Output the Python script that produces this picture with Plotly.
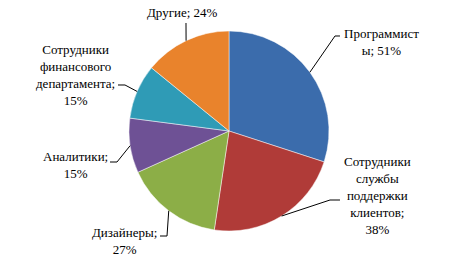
import math
import plotly.graph_objects as go

categories = ["Программисты", "Сотрудники службы поддержки клиентов", "Дизайнеры",
              "Аналитики", "Сотрудники финансового департамента", "Другие"]
values = [51, 38, 27, 15, 15, 24]
label_texts = ["Программист<br>ы; 51%",
               "Сотрудники<br>службы<br>поддержки<br>клиентов;<br>38%",
               "Дизайнеры;<br>27%",
               "Аналитики;<br>15%",
               "Сотрудники<br>финансового<br>департамента;<br>15%",
               "Другие; 24%"]
colors = ["#3B6CAC", "#B03B38", "#8CAE47", "#6E5195", "#2F9BB6", "#E9832C"]

W, H = 457, 263
CX, CY, R = 229, 131, 100

# label layout (pixel positions of label centres and leader bends)
label_pos = [(381, 42), (377, 195), (125, 241), (75, 165), (75, 75), (182, 13)]
bends = [[(340, 36), (335, 36)],
         [(340, 200), (330, 200)],
         [(160, 236), (167, 236)],
         [(110, 162), (117, 162)],
         [(118, 85), (125, 85)],
         [(186, 23)]]

FONT = "Liberation Serif"

fig = go.Figure(go.Pie(
    labels=categories, values=values, sort=False, direction="clockwise",
    rotation=0, textinfo="none", showlegend=False,
    marker=dict(colors=colors, line=dict(color="rgba(255,255,255,0.6)", width=0.8)),
    domain=dict(x=[(CX - R) / W, (CX + R) / W], y=[1 - (CY + R) / H, 1 - (CY - R) / H]),
))

def px(x, y):
    return x / W, 1 - y / H

total = sum(values)
cum = 0
shapes = []
annotations = []
for i, v in enumerate(values):
    mid = (cum + v / 2) / total
    cum += v
    ang = 2 * math.pi * mid
    ex = CX + R * math.sin(ang)
    ey = CY - R * math.cos(ang)
    pts = bends[i] + [(ex, ey)]
    path = ""
    for j, (x, y) in enumerate(pts):
        X, Y = px(x, y)
        path += ("M" if j == 0 else "L") + f"{X:.5f},{Y:.5f} "
    shapes.append(dict(type="path", path=path.strip(), xref="paper", yref="paper",
                       line=dict(color="black", width=1)))
    lx, ly = px(*label_pos[i])
    annotations.append(dict(text=label_texts[i], x=lx, y=ly, xref="paper", yref="paper",
                            showarrow=False, xanchor="center", yanchor="middle",
                            align="center",
                            font=dict(family=FONT, size=13, color="black")))

fig.update_layout(width=W, height=H, margin=dict(l=0, r=0, t=0, b=0),
                  paper_bgcolor="white", plot_bgcolor="white",
                  font=dict(family=FONT),
                  shapes=shapes, annotations=annotations)
fig.write_html("out.html", config={"displayModeBar": False},
               post_script="document.body.style.margin='0';document.body.style.padding='0';")
